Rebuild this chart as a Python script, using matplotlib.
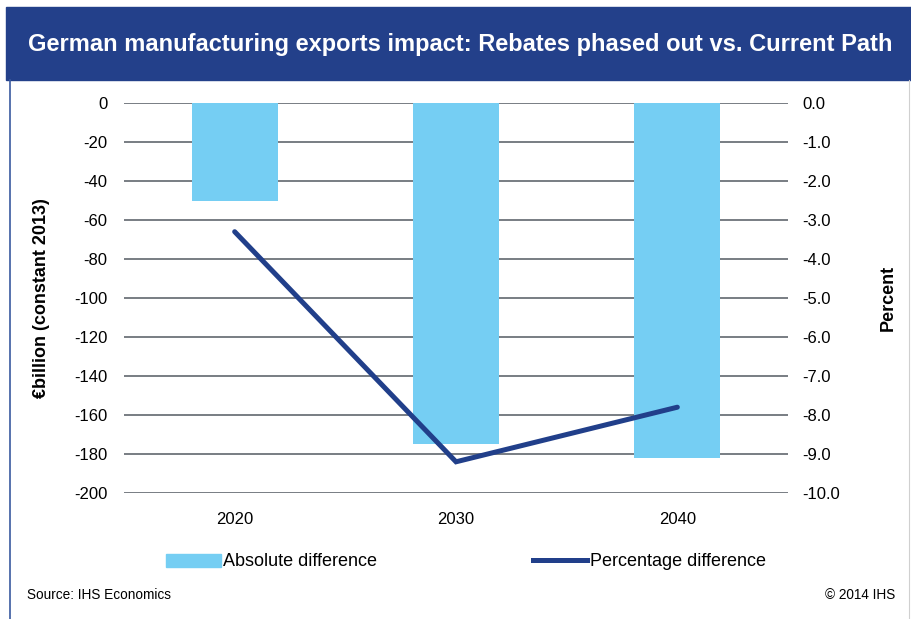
import matplotlib
matplotlib.use("Agg")
import matplotlib.pyplot as plt
from matplotlib.patches import Rectangle, Patch
from matplotlib.lines import Line2D

plt.rcParams['font.family'] = ['Liberation Sans', 'DejaVu Sans']

years = ["2020", "2030", "2040"]
absolute_diff = [-50, -175, -182]
percent_diff = [-3.3, -9.2, -7.8]

left_ticks = list(range(-200, 1, 20))
right_ticks = [-10, -9, -8, -7, -6, -5, -4, -3, -2, -1, 0]

BAR_COLOR = "#75cef3"
LINE_COLOR = "#213f8a"
BANNER_COLOR = "#23408a"
GRID_COLOR = "#6d737a"

fig = plt.figure(figsize=(9.12, 6.19), dpi=100)

# title banner
fig.patches.append(Rectangle((6 / 912, 1 - 80 / 619), 906 / 912, 73 / 619,
                             transform=fig.transFigure, color=BANNER_COLOR, zorder=0))
fig.text(460 / 912, 1 - 44 / 619,
         "German manufacturing exports impact: Rebates phased out vs. Current Path",
         color="white", fontsize=17, fontweight="bold", ha="center", va="center")
# frame lines
fig.add_artist(Line2D([10.5 / 912, 10.5 / 912], [0, 1 - 80 / 619], transform=fig.transFigure,
                      color="#3a5aa0", lw=1.2))
fig.add_artist(Line2D([909 / 912, 909 / 912], [0, 1 - 80 / 619], transform=fig.transFigure,
                      color="#d0d0d0", lw=0.8))

ax = fig.add_axes([124 / 912, 1 - 493 / 619, 664 / 912, 390 / 619])
x = range(len(years))
ax.bar(x, absolute_diff, width=0.39, color=BAR_COLOR, zorder=2)
ax.set_xlim(-0.5, 2.5)
ax.set_ylim(-200, 0)
ax.set_yticks(left_ticks)
ax.set_yticklabels([str(t) for t in left_ticks])
ax.set_xticks(list(x))
ax.set_xticklabels(years)
ax.grid(axis="y", color=GRID_COLOR, lw=1.3, zorder=1)
ax.set_axisbelow(True)
for s in ax.spines.values():
    s.set_visible(False)
ax.tick_params(axis="both", length=0, labelsize=12, colors="black")
ax.tick_params(axis="y", pad=12)
ax.tick_params(axis="x", pad=14)
ax.set_ylabel("€billion (constant 2013)", fontsize=13, fontweight="bold", labelpad=17)

ax2 = ax.twinx()
ax2.plot(x, percent_diff, color=LINE_COLOR, lw=3.6, solid_capstyle="round",
         solid_joinstyle="miter", zorder=3)
ax2.set_ylim(-10, 0)
ax2.set_yticks(right_ticks)
ax2.set_yticklabels([f"{t:.1f}" for t in right_ticks])
for s in ax2.spines.values():
    s.set_visible(False)
ax2.tick_params(axis="y", length=0, labelsize=12, pad=10)
ax2.set_ylabel("Percent", fontsize=13, fontweight="bold", labelpad=29)

handles = [Patch(color=BAR_COLOR, label="Absolute difference"),
           Line2D([], [], color=LINE_COLOR, lw=3.6, label="Percentage difference")]
fig.legend(handles=handles, loc="center", bbox_to_anchor=(466 / 912, 1 - 562 / 619),
           ncol=2, frameon=False, fontsize=13, handlelength=3.0, handletextpad=0.15,
           columnspacing=8.6)

fig.text(27 / 912, 1 - 595 / 619, "Source: IHS Economics", fontsize=9.8, va="center")
fig.text(895 / 912, 1 - 595 / 619, "© 2014 IHS", fontsize=9.8, va="center", ha="right")

fig.savefig("out.png", dpi=100)
